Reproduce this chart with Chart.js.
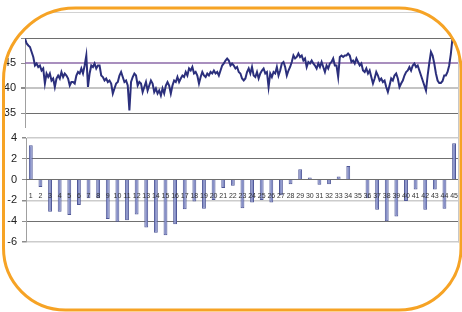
<!DOCTYPE html>
<html><head><meta charset="utf-8">
<script src="https://cdn.jsdelivr.net/npm/chart.js@4"></script>
<style>
html,body{margin:0;padding:0;background:#fff;}
#wrap{position:relative;width:462px;height:312px;overflow:hidden;background:#fff;}
canvas{position:absolute;left:0;top:0;}
svg{position:absolute;left:0;top:0;}
</style></head><body>
<div id="wrap">
<canvas id="topChart" width="462" height="312"></canvas>
<canvas id="bottomChart" width="462" height="312"></canvas>
<svg width="462" height="312" viewBox="0 0 462 312">
  <line x1="0" y1="12.5" x2="459" y2="12.5" stroke="#d2d2d2" stroke-width="1"/>
  <line x1="458.5" y1="12" x2="458.5" y2="242.5" stroke="#c8c8c8" stroke-width="1"/>
  <path fill="#fff" fill-rule="evenodd" d="M0,0 H462 V312 H0 Z M75.5,8 H399 A62,62 0 0 1 461,70 V248 A62,62 0 0 1 399,310 H65.5 A62,62 0 0 1 3.5,248 V80 A72,72 0 0 1 75.5,8 Z"/>
  <path fill="none" stroke="#f6a325" stroke-width="3" d="M75.5,8 H399 A62,62 0 0 1 461,70 V248 A62,62 0 0 1 399,310 H65.5 A62,62 0 0 1 3.5,248 V80 A72,72 0 0 1 75.5,8 Z"/>
</svg>
</div>
<script>
// ---- Top panel data ----
const lineValues = [
49.9,48.9,48.5,48.2,47.2,46.2,44.5,44.9,44.2,44.5,43.5,43.9,40.9,42.9,42.2,42.9,41.5,41.9,40.2,41.9,
42.5,41.9,43.2,42.2,42.9,42.5,41.9,40.5,41.2,41.2,40.9,42.5,43.2,42.9,43.9,42.9,44.5,46.5,40.2,42.9,
44.5,44.2,44.9,43.9,44.5,44.5,42.5,42.2,41.5,41.9,41.2,41.5,40.9,38.9,39.9,40.9,41.2,42.5,43.2,42.2,
41.2,41.5,40.5,35.5,41.2,
42.2,42.9,42.5,40.5,41.2,40.9,39.2,40.2,41.2,39.5,40.5,41.5,40.9,39.2,39.9,38.9,39.5,38.5,39.9,38.9,
40.5,41.2,40.5,38.9,40.5,41.5,41.2,42.2,41.2,41.9,42.5,42.2,43.2,42.5,43.9,43.5,44.2,42.9,43.2,42.5,
40.9,42.2,43.2,42.5,42.2,42.9,42.5,43.2,42.9,43.5,42.9,43.2,42.5,43.5,44.5,44.9,45.5,45.9,45.5,44.5,
44.9,44.5,43.9,44.2,
43.2,42.9,41.9,41.5,41.9,43.2,43.9,42.9,44.2,42.5,42.2,43.2,41.9,42.9,43.5,43.9,42.9,43.2,40.2,42.9,
42.2,43.2,42.9,44.2,42.5,43.5,44.9,45.2,44.2,42.5,43.5,44.2,45.2,46.5,45.9,46.2,46.9,46.2,46.5,45.5,
45.9,44.2,45.2,44.9,45.5,44.9,44.5,43.9,44.9,44.2,45.2,44.2,43.2,44.5,43.9,44.9,45.2,45.9,44.5,44.5,
42.2,46.2,46.5,46.2,46.5,
46.5,46.9,46.5,45.2,45.5,44.9,45.9,45.2,44.5,44.9,43.5,43.2,43.9,42.9,43.5,42.2,40.9,41.9,43.2,42.5,
41.5,41.9,41.2,41.5,40.2,39.2,40.5,41.9,41.5,42.5,42.9,41.9,40.2,40.9,41.5,42.5,43.2,43.5,44.2,43.5,
44.5,44.9,44.2,44.5,43.5,42.5,41.5,40.5,39.5,42.5,45.0,47.2,46.5,44.9,42.9,41.5,41.0,41.0,41.4,42.5,
42.5,43.2,44.5,46.8,50.0
];
const referenceLevel = 45;
const topTicks = [35, 40, 45, 50];

// ---- Bottom panel data ----
const barCategories = ['1','2','3','4','5','6','7','8','9','10','11','12','13','14','15','16','17','18','19','20',
'21','22','23','24','25','26','27','28','29','30','31','32','33','34','35','36','37','38','39','40',
'41','42','43','44','45'];
const barValues = [3.3,-0.7,-3.1,-3.1,-3.4,-2.45,-1.8,-1.8,-3.8,-4.05,-3.9,-3.35,-4.6,-5.1,-5.35,-4.3,-2.85,-2.1,-2.8,-1.95,
-0.8,-0.6,-2.75,-2.2,-1.95,-2.2,-1.5,-0.45,1.0,0.2,-0.5,-0.45,0.3,1.3,0,-1.8,-2.9,-4.0,-3.55,-2.05,
-0.95,-2.9,-0.95,-2.8,3.5];
const bottomTicks = [-6, -4, -2, 0, 2, 4];

Chart.defaults.font.family = '"Liberation Sans", Arial, sans-serif';
Chart.defaults.color = '#222';

const lastIndex = lineValues.length - 1;
const xMax = lastIndex * 433 / 427.5;

new Chart(document.getElementById('topChart'), {
  type: 'line',
  data: {
    datasets: [
      {
        data: lineValues.map((v, i) => ({x: i, y: v})),
        borderColor: '#2b2f7c', borderWidth: 2, pointRadius: 0, tension: 0, fill: false
      },
      {
        data: [{x: 0, y: referenceLevel}, {x: xMax, y: referenceLevel}],
        borderColor: '#8c6aa8', borderWidth: 1.5, pointRadius: 0, tension: 0, fill: false
      }
    ]
  },
  options: {
    responsive: false, animation: false, events: [],
    layout: {padding: {left: 0, right: 4, top: 38, bottom: 185}},
    plugins: {legend: {display: false}, tooltip: {enabled: false}},
    scales: {
      x: {type: 'linear', min: 0, max: xMax, display: false},
      y: {
        min: 32.2, max: 50,
        afterBuildTicks: s => { s.ticks = topTicks.map(v => ({value: v})); },
        afterFit: s => { s.width = 25; },
        grid: {
          color: c => {
            const v = c.tick ? c.tick.value : null;
            if (v === 45) return 'rgba(0,0,0,0)';
            if (v === 40) return '#c4c4c4';
            return '#6e6e6e';
          },
          lineWidth: c => (c.tick && c.tick.value === 40) ? 2 : 1,
          tickLength: 4, tickColor: '#8c8c8c'
        },
        border: {color: '#a0a0a0', width: 1},
        ticks: {padding: 5, color: '#222', font: {size: 11}, callback: v => v === 50 ? '' : v}
      }
    }
  }
});

new Chart(document.getElementById('bottomChart'), {
  type: 'bar',
  data: {
    labels: barCategories,
    datasets: [{
      data: barValues,
      backgroundColor: '#8790c8', borderColor: '#4f5797', borderWidth: 1,
      categoryPercentage: 1, barPercentage: 0.4
    }]
  },
  options: {
    responsive: false, animation: false, events: [],
    layout: {padding: {left: 0, right: 3, top: 138, bottom: 70}},
    plugins: {legend: {display: false}, tooltip: {enabled: false}},
    scales: {
      x: {
        type: 'category', position: {y: 0}, offset: true,
        grid: {display: false},
        border: {display: true, color: '#6e6e6e', width: 1, z: 1},
        ticks: {z: 2, autoSkip: false, maxRotation: 0, minRotation: 0, padding: 4, color: '#333', font: {size: 7}}
      },
      y: {
        min: -6, max: 4,
        afterBuildTicks: s => { s.ticks = bottomTicks.map(v => ({value: v})); },
        afterFit: s => { s.width = 26; },
        grid: {
          color: c => {
            const v = c.tick ? c.tick.value : null;
            if (v === 4 || v === -2 || v === -6) return '#cccccc';
            return '#707070';
          },
          lineWidth: c => {
            const v = c.tick ? c.tick.value : null;
            return (v === 4 || v === -2 || v === -6) ? 1.5 : 1;
          },
          tickLength: 4, tickColor: '#8c8c8c'
        },
        border: {color: '#a0a0a0', width: 1},
        ticks: {padding: 5, color: '#222', font: {size: 11}}
      }
    }
  }
});
</script>
</body></html>
